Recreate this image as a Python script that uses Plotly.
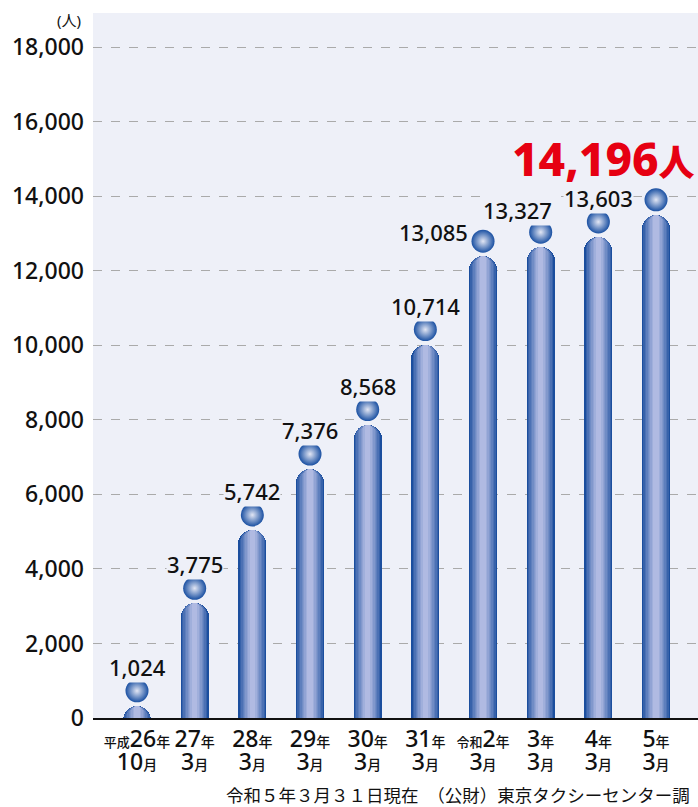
import plotly.graph_objects as go

# 東京タクシーセンター 登録者数の推移
era = ['平成', '', '', '', '', '', '令和', '', '', '']
year = ['26', '27', '28', '29', '30', '31', '2', '3', '4', '5']
month = ['10', '3', '3', '3', '3', '3', '3', '3', '3', '3']
values = [1024, 3775, 5742, 7376, 8568, 10714, 13085, 13327, 13603, 14196]
y_ticks = [0, 2000, 4000, 6000, 8000, 10000, 12000, 14000, 16000, 18000]

W, H = 698, 807
L, R, T, B = 93, 0, 13, 89
plot_h = H - T - B
y_max = 18000 * plot_h / 671
ppu = plot_h / y_max          # pixel per person
step = 57.67                   # pixel per category
x_lo = -(137 - L) / step
x_hi = x_lo + (W - L - R) / step

bg = '#eef0f8'
font_fam = 'Noto Sans, Noto Sans CJK JP, sans-serif'
idx = list(range(len(values)))

fig = go.Figure()

# cylinder bars: layered strips, dark edge -> light centre
dark = (27, 78, 158)
light = (176, 186, 226)
n_layers = 9
bar_w = 28 / step
base = -1500
tops = [v - 26 / ppu for v in values]
for k in range(n_layers):
    t = k / (n_layers - 1)
    t = t ** 0.8
    c = tuple(int(dark[i] + (light[i] - dark[i]) * t) for i in range(3))
    w = bar_w * (1 - 0.9 * k / n_layers)
    fig.add_trace(go.Bar(
        x=idx, y=[tp - base for tp in tops], base=base,
        width=w, marker=dict(color='rgb(%d,%d,%d)' % c, line=dict(width=0),
                             cornerradius='50%'),
        hoverinfo='skip', showlegend=False))

# balls
fig.add_trace(go.Scatter(
    x=idx, y=[v - 11 / ppu for v in values], mode='markers',
    marker=dict(size=23, color='#1a50a2',
                gradient=dict(type='radial', color='#e2e6f4'),
                line=dict(width=0)),
    hoverinfo='skip', showlegend=False))

# value labels
shift = {6: (-50, -2), 7: (-23, 11)}
for i, v in enumerate(values[:-1]):
    dx, dy = shift.get(i, (0, 13))
    fig.add_annotation(x=i, y=v, text=f'{v:,}', showarrow=False,
                       xshift=dx, yshift=dy, bgcolor=bg, borderpad=0,
                       font=dict(size=22, color='#111111', family=font_fam,
                                 weight=500))

fig.add_annotation(
    xref='paper', x=1, xanchor='right', xshift=-1,
    y=values[-1], yanchor='middle', yshift=31,
    text=f"{values[-1]:,}<span style='font-size:36px'>人</span>",
    showarrow=False,
    font=dict(size=46, color='#e60012', family=font_fam, weight=800))

fig.add_annotation(
    xref='paper', x=0, xanchor='right', xshift=-10,
    y=18000, yshift=27, text='(人)', showarrow=False,
    font=dict(size=15, color='#111111', family=font_fam))

fig.add_annotation(
    xref='paper', x=1, xanchor='right', xshift=-6,
    yref='paper', y=0, yanchor='middle', yshift=-77,
    text='令和５年３月３１日現在　（公財）東京タクシーセンター調',
    showarrow=False, font=dict(size=17.5, color='#111111', family=font_fam))

tick_text = []
for e, yy, m in zip(era, year, month):
    pre = f"<span style='font-size:13px'>{e}</span>" if e else ''
    tick_text.append(
        f"{pre}<span style='font-size:23px'>{yy}</span>"
        f"<span style='font-size:14px'>年</span>"
        f"<br><span style='font-size:23px'>{m}</span>"
        f"<span style='font-size:14px'>月</span>")

fig.update_layout(
    width=W, height=H,
    margin=dict(l=L, r=R, t=T, b=B),
    paper_bgcolor='white', plot_bgcolor=bg,
    barmode='overlay', bargap=0,
    font=dict(family=font_fam, color='#111111'),
    xaxis=dict(range=[x_lo, x_hi], tickvals=idx, ticktext=tick_text,
               tickfont=dict(size=17, color='#111111', weight=500),
               showgrid=False, zeroline=False,
               showline=True, linecolor='#111111', linewidth=2,
               ticks='', ticklabelstandoff=7),
    yaxis=dict(range=[0, y_max], tickvals=y_ticks,
               ticktext=[f'{t:,}' for t in y_ticks],
               tickfont=dict(size=23, color='#111111', weight=500),
               showgrid=True, gridcolor='#aaaaaa', griddash='dash',
               gridwidth=1, zeroline=False, ticks='',
               ticklabelstandoff=8),
)

fig.write_html('out.html', config={'displayModeBar': False},
               post_script="document.body.style.margin='0';"
                           "document.body.style.overflow='hidden';")
